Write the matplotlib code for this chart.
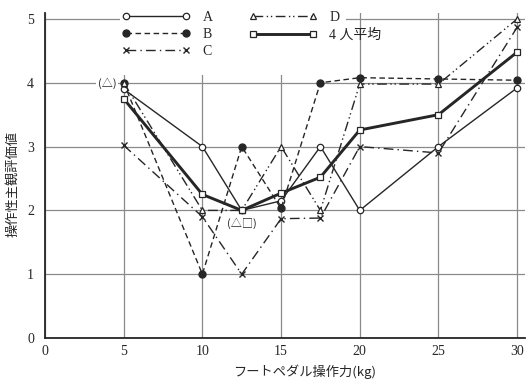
import matplotlib
matplotlib.use("Agg")
import matplotlib.pyplot as plt
from matplotlib.patches import Rectangle

plt.rcParams['font.family'] = ['Noto Sans CJK JP', 'DejaVu Sans']

# Pedal force (kg) and subjective operability ratings
force = [5, 10, 12.5, 15, 17.5, 20, 25, 30]
rating_a = [3.9, 3.0, 2.0, 2.15, 3.0, 2.0, 3.0, 3.92]
rating_b = [4.0, 1.0, 3.0, 2.03, 4.0, 4.08, 4.06, 4.04]
rating_c = [3.02, 1.9, 1.0, 1.87, 1.88, 3.0, 2.9, 4.87]
rating_d = [4.0, 2.0, 2.0, 3.0, 2.0, 3.98, 3.98, 5.0]
rating_avg = [3.75, 2.25, 2.0, 2.27, 2.52, 3.26, 3.5, 4.48]

x_ticks = [0, 5, 10, 15, 20, 25, 30]
y_ticks = [0, 1, 2, 3, 4, 5]

ink = '#262626'
fig = plt.figure(figsize=(5.28, 3.85), dpi=100)
ax = fig.add_axes([45 / 528, 47 / 385, 480 / 528, 325.4 / 385])
ax.set_xlim(0, 30.5)
ax.set_ylim(0, 5.1)
ax.set_xticks(x_ticks)
ax.set_yticks(y_ticks)
ax.tick_params(length=0, labelsize=10, colors=ink)
ax.tick_params(axis='y', pad=8)
ax.tick_params(axis='x', pad=5)
for lab in ax.get_xticklabels() + ax.get_yticklabels():
    lab.set_family('Liberation Serif')
ax.grid(True, color='#8a8a8a', lw=0.9, zorder=0.5)
ax.set_axisbelow(True)
for s in ('top', 'right'):
    ax.spines[s].set_visible(False)
for s in ('left', 'bottom'):
    ax.spines[s].set_color(ink)
    ax.spines[s].set_linewidth(1.3)

# white panel behind the key
ax.add_patch(Rectangle((4.75, 4.12), 14.4, 1.0, facecolor='white',
                       edgecolor='none', zorder=1))

ms = 4.6
ax.plot(force, rating_a, '-', color=ink, lw=1.0, marker='o', ms=ms,
        mfc='white', mec=ink, mew=0.9, label='A', zorder=3)
ax.plot(force, rating_b, color=ink, lw=1.0, ls=(0, (4, 2.5)), marker='o',
        ms=ms + 0.4, mfc=ink, mec=ink, label='B', zorder=3)
ax.plot(force, rating_c, color=ink, lw=1.0, ls=(0, (7, 3, 1, 3)), marker='x',
        ms=ms + 0.4, mec=ink, mew=1.0, label='C', zorder=3)
ax.plot(force, rating_d, color=ink, lw=1.0, ls=(0, (7, 2.5, 1, 2, 1, 2.5)),
        marker='^', ms=ms, mfc='white', mec=ink, mew=0.9, label='D', zorder=3)
ax.plot(force, rating_avg, '-', color=ink, lw=2.1, marker='s', ms=ms,
        mfc='white', mec=ink, mew=0.9, label='4 人平均', zorder=3.5)

ax.annotate('(△)', xy=(force[0], rating_d[0]), xytext=(-5, 0),
            textcoords='offset points', ha='right', va='center',
            fontsize=8, color=ink, zorder=2,
            bbox=dict(boxstyle='square,pad=0.15', fc='white', ec='none'))
ax.annotate('(△□)', xy=(force[2], rating_avg[2]), xytext=(0, -9),
            textcoords='offset points', ha='center', va='center',
            fontsize=8, color=ink)

leg = ax.legend(ncol=2, loc='upper left', bbox_to_anchor=(122 / 528, 1 - 11 / 385),
                bbox_transform=fig.transFigure, frameon=False, fontsize=10,
                handlelength=4.9, handletextpad=0.9, labelspacing=0.3,
                columnspacing=2.6, borderpad=0, borderaxespad=0, numpoints=2)
for t in leg.get_texts():
    t.set_color(ink)
    t.set_family(['Liberation Serif', 'Noto Sans CJK JP'])

fig.text(305 / 528, 1 - 372 / 385, 'フートペダル操作力(kg)', ha='center',
         va='center', fontsize=9.5, color=ink)
fig.text(13 / 528, 1 - 184 / 385, '操作性主観評価値', ha='center', va='center',
         rotation=90, fontsize=9.5, color=ink)

fig.savefig('out.png', dpi=100, facecolor='white')
